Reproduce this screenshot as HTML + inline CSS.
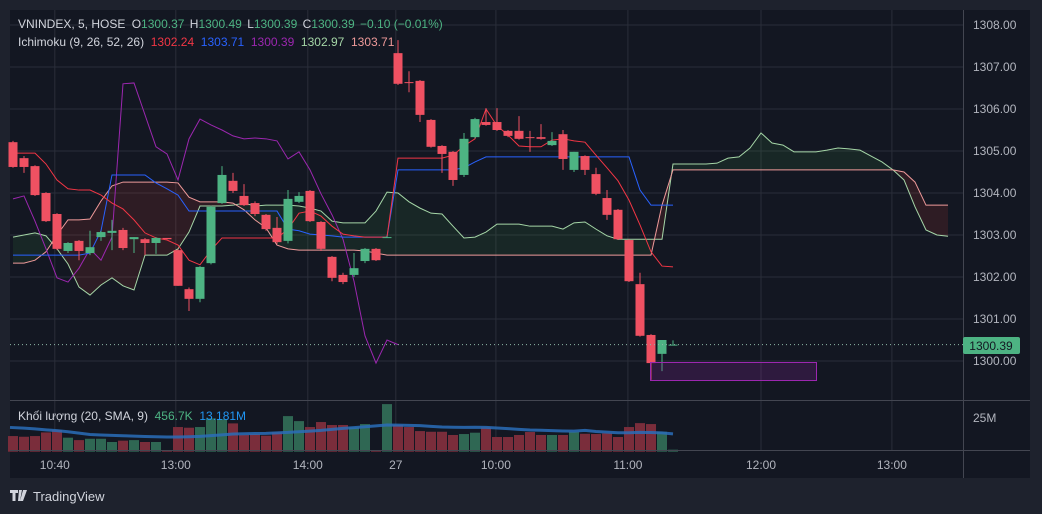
<!DOCTYPE html>
<html><head><meta charset="utf-8"><style>
html,body{margin:0;padding:0;background:#1e222d;width:1042px;height:514px;overflow:hidden;font-family:"Liberation Sans",sans-serif;}
svg{position:absolute;left:0;top:0}
</style></head><body>
<svg id="c" width="1042" height="514"></svg>
<script>
const closes=[1304.62,1304.62,1303.95,1303.33,1302.67,1302.81,1302.62,1302.71,1303.07,1303.10,1302.69,1302.95,1302.81,1302.93,1302.90,1301.79,1301.48,1302.24,1303.67,1304.43,1304.05,1303.71,1303.50,1303.14,1302.83,1303.86,1303.93,1303.33,1302.67,1301.98,1301.88,1302.21,1302.67,1302.40,1302.95,1306.60,1306.62,1305.86,1305.10,1304.93,1304.31,1305.29,1305.76,1305.62,1305.50,1305.36,1305.29,1305.31,1305.29,1305.24,1304.81,1304.98,1304.55,1303.98,1303.48,1302.90,1301.90,1300.60,1299.95,1300.50,1300.39];
const opens=[1305.21,1304.83,1304.64,1304.00,1303.50,1302.62,1302.86,1302.57,1302.95,1303.05,1303.12,1302.90,1302.90,1302.81,1302.93,1302.64,1301.71,1301.48,1302.33,1303.76,1304.29,1303.93,1303.76,1303.48,1303.17,1302.86,1303.79,1304.05,1303.31,1302.48,1302.05,1302.05,1302.38,1302.67,1302.93,1307.33,1306.64,1306.67,1305.74,1305.12,1304.98,1304.43,1305.33,1305.69,1305.69,1305.48,1305.48,1305.33,1305.33,1305.14,1305.40,1304.55,1304.88,1304.45,1303.88,1303.60,1302.88,1301.83,1300.62,1300.17,1300.37];
const highs=[1305.24,1304.88,1304.66,1304.02,1303.52,1302.83,1302.88,1303.10,1303.10,1303.36,1303.17,1302.95,1302.93,1302.95,1302.93,1302.67,1301.75,1302.26,1303.70,1304.64,1304.48,1304.21,1303.80,1303.50,1303.43,1304.07,1304.02,1304.07,1303.33,1302.50,1302.10,1302.57,1302.69,1302.69,1302.98,1307.64,1306.90,1306.69,1305.76,1305.14,1305.00,1305.43,1305.79,1306.02,1306.02,1305.50,1305.83,1305.48,1305.64,1305.45,1305.50,1304.98,1304.90,1304.60,1304.07,1303.62,1302.90,1302.10,1300.64,1300.50,1300.49];
const lows=[1304.60,1304.48,1303.93,1303.31,1302.64,1302.57,1302.40,1302.52,1302.86,1302.64,1302.64,1302.57,1302.52,1302.55,1302.90,1301.79,1301.19,1301.40,1302.30,1303.74,1304.00,1303.69,1303.45,1303.10,1302.79,1302.80,1303.76,1303.31,1302.62,1301.90,1301.83,1302.00,1302.33,1302.38,1302.93,1306.57,1306.40,1305.69,1305.08,1304.48,1304.17,1304.38,1305.30,1305.60,1305.48,1305.33,1305.27,1304.98,1305.27,1305.12,1304.55,1304.50,1304.43,1303.95,1303.36,1302.88,1301.88,1300.58,1299.55,1299.76,1300.39];
const tenkan=[1304.95,1304.95,1304.95,1304.69,1304.31,1304.10,1304.07,1304.07,1303.95,1303.76,1303.62,1303.36,1303.05,1302.93,1302.88,1302.76,1302.40,1302.29,1302.64,1302.93,1302.93,1302.93,1302.93,1302.93,1302.93,1303.14,1303.52,1303.57,1303.45,1303.21,1303.02,1302.98,1302.95,1302.95,1302.95,1304.83,1304.83,1304.83,1304.83,1304.83,1304.90,1305.12,1305.29,1306.00,1305.60,1305.38,1305.12,1305.10,1305.10,1305.26,1305.29,1305.24,1305.21,1304.90,1304.60,1304.29,1303.83,1303.24,1302.60,1302.26,1302.24];
const kijun=[1302.52,1302.52,1302.52,1302.52,1302.52,1302.52,1302.52,1302.57,1303.10,1304.43,1304.43,1304.43,1304.43,1304.24,1304.10,1303.95,1303.57,1303.57,1303.57,1303.57,1303.57,1303.57,1303.57,1303.57,1303.57,1303.14,1303.10,1303.02,1303.00,1302.98,1302.95,1302.95,1302.95,1302.95,1302.95,1304.55,1304.55,1304.55,1304.55,1304.55,1304.55,1304.60,1304.74,1304.86,1304.86,1304.86,1304.86,1304.86,1304.86,1304.86,1304.86,1304.86,1304.86,1304.86,1304.86,1304.86,1304.86,1304.07,1303.71,1303.71,1303.71];
const spanA=[1302.95,1303.00,1303.05,1302.98,1302.67,1302.31,1301.76,1301.57,1301.81,1301.98,1301.79,1301.69,1302.52,1302.52,1302.52,1302.67,1303.07,1303.69,1303.69,1303.69,1303.71,1303.76,1303.69,1303.71,1303.71,1303.71,1303.69,1303.64,1303.57,1303.33,1303.29,1303.29,1303.29,1303.57,1304.02,1304.00,1303.79,1303.64,1303.52,1303.50,1303.21,1302.93,1302.95,1303.07,1303.26,1303.26,1303.26,1303.21,1303.21,1303.21,1303.14,1303.29,1303.31,1303.14,1302.98,1302.90,1302.90,1302.90,1302.90,1302.90,1304.69,1304.69,1304.69,1304.69,1304.71,1304.83,1304.86,1305.07,1305.43,1305.19,1305.14,1304.98,1304.98,1304.98,1305.02,1305.07,1305.05,1305.02,1304.88,1304.74,1304.55,1304.31,1303.67,1303.12,1303.00,1302.97];
const spanB=[1302.33,1302.33,1302.40,1302.60,1303.00,1303.36,1303.36,1303.38,1303.81,1304.17,1304.26,1304.26,1304.26,1304.26,1304.26,1304.24,1303.90,1303.79,1303.79,1303.79,1303.76,1303.60,1303.36,1303.17,1302.76,1302.67,1302.64,1302.64,1302.64,1302.64,1302.64,1302.64,1302.62,1302.57,1302.52,1302.52,1302.52,1302.52,1302.52,1302.52,1302.52,1302.52,1302.52,1302.52,1302.52,1302.52,1302.52,1302.52,1302.52,1302.52,1302.52,1302.52,1302.52,1302.52,1302.52,1302.52,1302.52,1302.52,1302.52,1303.71,1304.55,1304.55,1304.55,1304.55,1304.55,1304.55,1304.55,1304.55,1304.55,1304.55,1304.55,1304.55,1304.55,1304.55,1304.55,1304.55,1304.55,1304.55,1304.55,1304.55,1304.55,1304.50,1304.26,1303.71,1303.71,1303.71];
const volumes=[11.6,11.1,11.6,14.3,16.1,10.4,8.6,9.6,9.6,7.2,8.2,8.6,7.2,7.2,1.2,18.3,17.8,18.3,24.7,24.2,21.0,12.4,13.1,11.9,14.3,26.4,22.7,18.3,22.0,19.8,19.8,18.0,20.5,1.2,35.3,19.8,18.3,15.3,14.8,14.8,12.4,13.1,14.1,18.0,10.9,10.9,12.4,14.6,12.4,12.4,12.4,14.6,13.3,13.1,13.6,10.9,18.3,21.2,20.5,14.8,1.5];
const volSMA=[18.0,17.5,16.9,16.2,15.6,14.8,13.8,12.8,12.4,12.1,11.8,11.6,11.3,11.1,10.9,10.9,11.1,11.4,11.9,12.5,13.1,13.3,13.5,13.6,14.0,14.3,14.8,15.3,15.8,16.6,17.3,17.9,18.5,19.2,19.8,19.7,19.5,19.3,18.8,18.3,18.1,18.0,18.1,18.0,17.6,17.1,16.6,16.1,15.9,15.6,15.4,15.3,15.8,15.0,14.5,14.1,14.1,14.3,14.2,14.0,13.2];
const priceTicks=[1308,1307,1306,1305,1304,1303,1302,1301,1300];
const timeLabels=[["10:40",3.8],["13:00",14.8],["14:00",26.8],["27",34.8],["10:00",43.9],["11:00",55.9],["12:00",68],["13:00",79.9]];
const CHIKOU_SHIFT=25;

const svg=document.getElementById('c');const NS='http://www.w3.org/2000/svg';
function X(i){return 13+11*i;}
function Y(p){return 361-(p-1300)*42;}
function VY(v){return 451.7-v*1.348;}
function mk(t,a,name,inter){const e=document.createElementNS(NS,t);for(const k in a)e.setAttribute(k,a[k]);


svg.appendChild(e);return e;}
function txt(x,y,s,fill,size,name,anchor){const e=mk('text',{x:x,y:y,fill:fill,'font-size':size,'font-family':'Liberation Sans, sans-serif','text-anchor':anchor||'start'},name,false);e.textContent=s;return e;}

mk('rect',{x:10,y:10,width:1020,height:468,fill:'#131722'},'chart-background',false);
priceTicks.forEach(p=>{mk('line',{x1:10,x2:963,y1:Y(p),y2:Y(p),stroke:'#2a2e39','stroke-width':1},'grid-line-h',false);});
timeLabels.forEach(t=>{mk('line',{x1:X(t[1]),x2:X(t[1]),y1:10,y2:450,stroke:'#2a2e39','stroke-width':1},'grid-line-v',false);});
for(let i=0;i<spanA.length-1;i++){
 const up=(spanA[i]+spanA[i+1])>=(spanB[i]+spanB[i+1]);
 mk('polygon',{points:`${X(i)},${Y(spanA[i])} ${X(i+1)},${Y(spanA[i+1])} ${X(i+1)},${Y(spanB[i+1])} ${X(i)},${Y(spanB[i])}`,fill:up?'rgba(67,160,71,0.12)':'rgba(244,67,54,0.12)'},'cloud-segment',false);
}
function line(arr,off,color,name,w){let d='';arr.forEach((v,i)=>{d+=(i?'L':'M')+X(i+off)+','+Y(v);});mk('path',{d:d,fill:'none',stroke:color,'stroke-width':w||1},name,false);}
line(spanA,0,'#a5d6a7','senkou-span-a');
line(spanB,0,'#ef9a9a','senkou-span-b');
line(closes.slice(CHIKOU_SHIFT),0,'#9c27b0','chikou-span');
line(kijun,0,'#2962ff','kijun-sen');
line(tenkan,0,'#f23645','tenkan-sen');
for(let i=0;i<closes.length;i++){
 const up=closes[i]>=opens[i];const col=up?'#4db383':'#ef5162';
 mk('line',{x1:X(i),x2:X(i),y1:Y(highs[i]),y2:Y(lows[i]),stroke:col,'stroke-width':1},'candle-wick',false);
 const t=Math.min(Y(opens[i]),Y(closes[i]));const h=Math.max(1,Math.abs(Y(opens[i])-Y(closes[i])));
 mk('rect',{x:X(i)-4.5,y:t,width:9,height:h,fill:col},'candle-body',true);
}
mk('rect',{x:650.5,y:362.5,width:166,height:18,fill:'rgba(156,39,176,0.2)',stroke:'#9c27b0','stroke-width':1},'rectangle-drawing',true);
mk('line',{x1:10,x2:963,y1:Y(closes[60]),y2:Y(closes[60]),stroke:'#8fb8a8','stroke-width':1,'stroke-dasharray':'1,3'},'last-price-line',false);
mk('line',{x1:10,x2:1030,y1:400.5,y2:400.5,stroke:'#434651','stroke-width':1},'pane-separator',false);
for(let i=0;i<volumes.length;i++){const up=closes[i]>=opens[i];
 mk('rect',{x:X(i)-5,y:VY(volumes[i]),width:10,height:451.7-VY(volumes[i]),fill:up?'#2f6753':'#7a2d3b'},'volume-bar',false);}
{let d='';volSMA.forEach((v,i)=>{d+=(i?'L':'M')+(i==0?10:X(i))+','+VY(v);});mk('path',{d:d,fill:'none',stroke:'#2a6db8','stroke-width':3,opacity:0.85},'volume-sma-line',false);}
mk('line',{x1:10,x2:1030,y1:450.5,y2:450.5,stroke:'#434651','stroke-width':1},'time-axis-border',false);
mk('line',{x1:963.5,x2:963.5,y1:10,y2:478,stroke:'#434651','stroke-width':1},'price-axis-border',false);
priceTicks.forEach(p=>{txt(973,Y(p)+4,p.toFixed(2),'#b2b5be',12,'price-tick-label');});
txt(973,422,'25M','#b2b5be',12,'volume-tick-label');
timeLabels.forEach(t=>{txt(X(t[1]),469,t[0],'#b2b5be',12,'time-tick-label','middle');});
mk('rect',{x:963,y:337,width:57,height:17,fill:'#4db383',rx:2},'last-price-badge',false);
txt(991,350,closes[60].toFixed(2),'#131722',12,'last-price-label','middle');
const l1=txt(18,28,'','#d1d4dc',12,'symbol-legend');
l1.innerHTML='VNINDEX, 5, HOSE <tspan dx="3">O</tspan><tspan fill="#4db383">1300.37</tspan> <tspan dx="2">H</tspan><tspan fill="#4db383">1300.49</tspan> <tspan dx="2">L</tspan><tspan fill="#4db383">1300.39</tspan> <tspan dx="2">C</tspan><tspan fill="#4db383">1300.39</tspan> <tspan dx="2" fill="#4db383">−0.10 (−0.01%)</tspan>';
const l2=txt(18,46,'','#d1d4dc',12,'ichimoku-legend');l2.style.whiteSpace='pre';
l2.innerHTML='Ichimoku (9, 26, 52, 26)  <tspan fill="#f23645">1302.24</tspan>  <tspan fill="#2962ff">1303.71</tspan>  <tspan fill="#9c27b0">1300.39</tspan>  <tspan fill="#a5d6a7">1302.97</tspan>  <tspan fill="#ef9a9a">1303.71</tspan>';
const l3=txt(18,420,'','#d1d4dc',12,'volume-legend');l3.style.whiteSpace='pre';
l3.innerHTML='Khối lượng (20, SMA, 9)  <tspan fill="#4db383">456.7K</tspan>  <tspan fill="#2196f3">13.181M</tspan>';
mk('path',{d:'M10 490h8v3h-2.5v8h-3v-8h-2.5zM19 490h3l-2 11h-2zM23 490h4l-4 11h-3z',fill:'#d1d4dc'},'tradingview-logo-icon',true);
txt(33,501,'TradingView','#d1d4dc',13,'tradingview-logo-text');
</script>
</body></html>
